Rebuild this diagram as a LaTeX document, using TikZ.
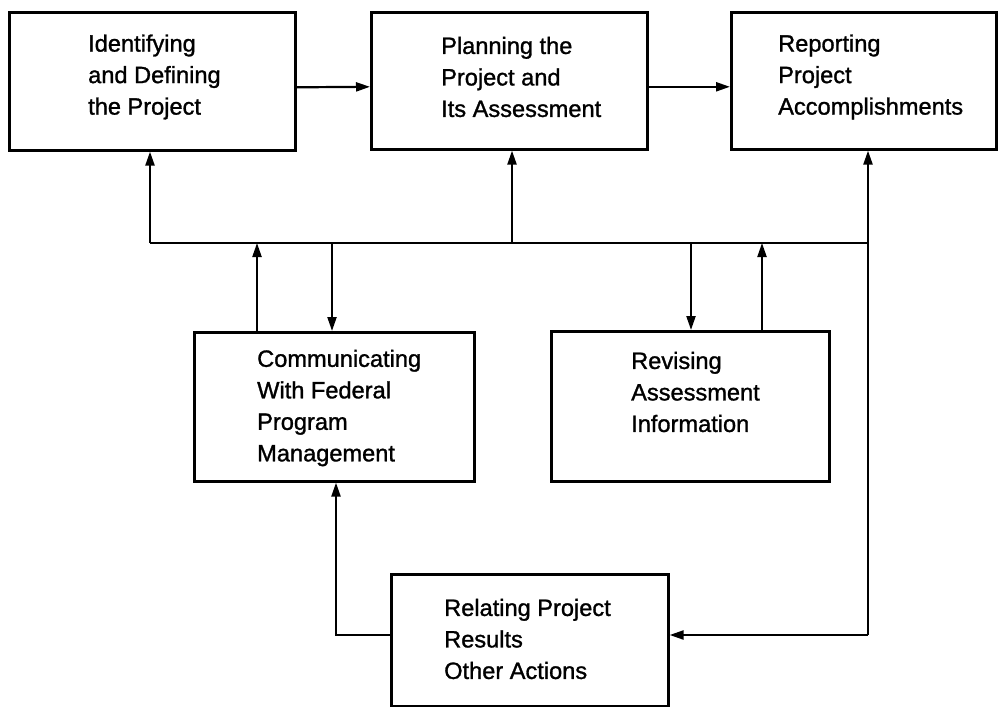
\documentclass[tikz,border=0pt]{standalone}
\usepackage{fontspec}
\newfontfamily\boxfont[FakeBold=1.2]{Liberation Sans}
\usetikzlibrary{arrows.meta}
\begin{document}
\begin{tikzpicture}[x=1pt,y=-1pt,
  box/.style={draw, line width=2.6pt, rectangle, anchor=north west, inner sep=0pt},
  txt/.style={anchor=west, align=left, inner sep=0pt,
    font=\boxfont\fontsize{23.6}{31.5}\selectfont},
  link/.style={line width=2.2pt},
  arr/.style={line width=2.2pt, -{Triangle[length=14pt,width=9pt]}}]
\useasboundingbox (0,0) rectangle (1000,706);

% process boxes
\node[box, minimum width=286pt, minimum height=138pt] (A) at (8,11) {};
\node[box, minimum width=276pt, minimum height=137pt] (B) at (370,11) {};
\node[box, minimum width=265pt, minimum height=137pt] (C) at (730,11) {};
\node[box, minimum width=280pt, minimum height=149pt] (D) at (193,331) {};
\node[box, minimum width=278pt, minimum height=150pt] (E) at (550,330) {};
\node[box, minimum width=277pt, minimum height=132pt] (F) at (390,573) {};

% box texts
\node[txt] (tA) at (88,77) {Identifying\\and Defining\\the Project};
\node[txt] (tB) at (441,77) {Planning the\\Project and\\Its Assessment};
\node[txt] (tC) at (778,77) {Reporting\\Project\\Accomplishments};
\node[txt] (tD) at (257,408) {Communicating\\With Federal\\Program\\Management};
\node[txt] (tE) at (631,392) {Revising\\Assessment\\Information};
\node[txt] (tF) at (444,639) {Relating Project\\Results\\Other Actions};

% top row flow
\draw[arr] ([yshift=-6pt]A.east) -- ([yshift=-6pt]B.west);
\draw[arr] ([yshift=-6pt]B.east) -- ([yshift=-6pt]C.west);

% common bus
\coordinate (busL) at (150,243);
\coordinate (busR) at (868,243);
\coordinate (bB) at (512,243);
\coordinate (dUp) at (257,243);
\coordinate (dDn) at (332,243);
\coordinate (eDn) at (691,243);
\coordinate (eUp) at (762,243);
\coordinate (corner) at (868,635);
\coordinate (fb) at (336,635);

\draw[link] (busL) -- (busR);
\draw[arr] (busL) -- (busL |- A.south);
\draw[arr] (bB) -- (bB |- B.south);
\draw[arr] (dUp |- D.north) -- (dUp);
\draw[arr] (dDn) -- (dDn |- D.north);
\draw[arr] (eDn) -- (eDn |- E.north);
\draw[arr] (eUp |- E.north) -- (eUp);

% right return line
\draw[arr] (corner) -- (corner |- C.south);
\draw[arr] (corner) -- (corner -| F.east);

% feedback to federal management
\draw[arr] (F.west |- fb) -- (fb) -- (fb |- D.south);
\end{tikzpicture}
\end{document}
